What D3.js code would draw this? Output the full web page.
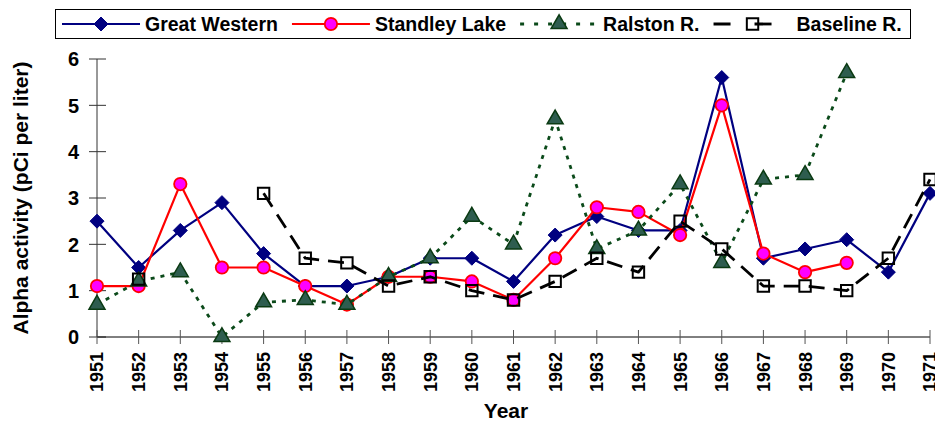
<!DOCTYPE html>
<html>
<head>
<meta charset="utf-8">
<script src="https://cdn.jsdelivr.net/npm/d3@7"></script>
<style>
  body { margin: 0; background: #fff; }
  svg { display: block; font-family: "Liberation Sans", Arial, sans-serif; font-weight: bold; }
</style>
</head>
<body>
<script>
"use strict";
// data
var years = [1951, 1952, 1953, 1954, 1955, 1956, 1957, 1958, 1959, 1960, 1961,
             1962, 1963, 1964, 1965, 1966, 1967, 1968, 1969, 1970, 1971];
var greatWestern = [2.5, 1.5, 2.3, 2.9, 1.8, 1.1, 1.1, 1.3, 1.7, 1.7, 1.2,
                    2.2, 2.6, 2.3, 2.3, 5.6, 1.7, 1.9, 2.1, 1.4, 3.1];
var standleyLake = [1.1, 1.1, 3.3, 1.5, 1.5, 1.1, 0.7, 1.3, 1.3, 1.2, 0.8,
                    1.7, 2.8, 2.7, 2.2, 5.0, 1.8, 1.4, 1.6, null, null];
var ralston = [0.7, 1.2, 1.4, 0.0, 0.75, 0.8, 0.7, 1.3, 1.7, 2.6, 2.0,
               4.7, 1.9, 2.3, 3.3, 1.6, 3.4, 3.5, 5.7, null, null];
var baseline = [null, 1.25, null, null, 3.1, 1.7, 1.6, 1.1, 1.3, 1.0, 0.8,
                1.2, 1.7, 1.4, 2.5, 1.9, 1.1, 1.1, 1.0, 1.7, 3.4];
var yTicks = [0, 1, 2, 3, 4, 5, 6];
var seriesNames = ["Great Western", "Standley Lake", "Ralston R.", "Baseline R."];

(function () {
  var width = 935, height = 424;

  var svg = d3.select("body").append("svg")
    .attr("width", width)
    .attr("height", height);

  var x = d3.scaleLinear().domain([1951, 1971]).range([97, 930]);
  var y = d3.scaleLinear().domain([0, 6]).range([337, 59]);

  // excel style diamond: a square turned 45 degrees
  var diamond = "M0,-7L7,0L0,7L-7,0Z";
  var triangle = d3.symbol().type(d3.symbolTriangle).size(110);
  var square = d3.symbol().type(d3.symbolSquare).size(130);

  var series = [
    { name: seriesNames[0], values: greatWestern, stroke: "#000080", width: 2.2, dash: null,
      legendDash: null, marker: function (g) {
        g.append("path").attr("d", diamond).attr("fill", "#000080").attr("stroke", "#000080").attr("stroke-width", 1);
      } },
    { name: seriesNames[1], values: standleyLake, stroke: "#ff0000", width: 2.2, dash: null,
      legendDash: null, marker: function (g) {
        g.append("circle").attr("r", 6.2).attr("fill", "#ff00ff").attr("stroke", "#ff0000").attr("stroke-width", 1.8);
      } },
    { name: seriesNames[2], values: ralston, stroke: "#0b4a1a", width: 2.8, dash: "4,6",
      legendDash: "4,10", marker: function (g) {
        g.append("path").attr("d", triangle).attr("fill", "#2e5d4f").attr("stroke", "#0a3a12").attr("stroke-width", 1.5);
      } },
    { name: seriesNames[3], values: baseline, stroke: "#000000", width: 2.8, dash: "16,9",
      legendDash: "17,24", marker: function (g) {
        g.append("path").attr("d", square).attr("fill", "none").attr("stroke", "#000").attr("stroke-width", 2);
      } }
  ];

  // y axis
  var yAxis = svg.append("g").attr("class", "y-axis");
  yAxis.append("line")
    .attr("x1", x(1951)).attr("x2", x(1951))
    .attr("y1", y(6)).attr("y2", y(0))
    .attr("stroke", "#333").attr("stroke-width", 1);
  yTicks.forEach(function (t) {
    yAxis.append("line")
      .attr("x1", x(1951) - 8).attr("x2", x(1951) + 9)
      .attr("y1", y(t)).attr("y2", y(t))
      .attr("stroke", "#333").attr("stroke-width", 1);
    yAxis.append("text")
      .attr("x", 79).attr("y", y(t)).attr("dy", "0.36em")
      .attr("text-anchor", "end")
      .style("font-size", "20px")
      .text(t);
  });

  // x axis
  var xAxis = svg.append("g").attr("class", "x-axis");
  xAxis.append("line")
    .attr("x1", x(1951)).attr("x2", x(1971))
    .attr("y1", y(0)).attr("y2", y(0))
    .attr("stroke", "#000").attr("stroke-width", 1);
  years.forEach(function (yr) {
    xAxis.append("line")
      .attr("x1", x(yr)).attr("x2", x(yr))
      .attr("y1", y(0) - 7).attr("y2", y(0) + 7)
      .attr("stroke", "#555").attr("stroke-width", 1);
    xAxis.append("text")
      .attr("transform", "translate(" + x(yr) + "," + 352 + ") rotate(-90)")
      .attr("dy", "0.36em")
      .attr("text-anchor", "end")
      .style("font-size", "18px")
      .text(yr);
  });

  svg.append("text")
    .attr("x", 506).attr("y", 418)
    .attr("text-anchor", "middle")
    .style("font-size", "21px")
    .text("Year");

  svg.append("text")
    .attr("transform", "translate(28," + 198 + ") rotate(-90)")
    .attr("text-anchor", "middle")
    .style("font-size", "21px")
    .text("Alpha activity (pCi per liter)");

  // series
  series.forEach(function (s) {
    var pts = years.map(function (yr, i) { return { year: yr, value: s.values[i] }; });
    var line = d3.line()
      .defined(function (d) { return d.value !== null; })
      .x(function (d) { return x(d.year); })
      .y(function (d) { return y(d.value); });
    svg.append("path")
      .attr("d", line(pts))
      .attr("fill", "none")
      .attr("stroke", s.stroke)
      .attr("stroke-width", s.width)
      .attr("stroke-dasharray", s.dash)
      .attr("stroke-linejoin", "round");
    pts.filter(function (d) { return d.value !== null; }).forEach(function (d) {
      var g = svg.append("g").attr("transform", "translate(" + x(d.year) + "," + y(d.value) + ")");
      s.marker(g);
    });
  });

  // legend
  var legend = svg.append("g").attr("class", "legend");
  legend.append("rect")
    .attr("x", 55.5).attr("y", 9.5).attr("width", 855).attr("height", 29)
    .attr("fill", "#fff").attr("stroke", "#000").attr("stroke-width", 1);
  var lx = 62;
  series.forEach(function (s) {
    legend.append("line")
      .attr("x1", lx).attr("x2", lx + 78)
      .attr("y1", 24).attr("y2", 24)
      .attr("stroke", s.stroke)
      .attr("stroke-width", s.width)
      .attr("stroke-dasharray", s.legendDash);
    var g = legend.append("g").attr("transform", "translate(" + (lx + 39) + ",24)");
    s.marker(g);
    var txt = legend.append("text")
      .attr("x", lx + 83).attr("y", 24).attr("dy", "0.36em")
      .style("font-size", "19.5px")
      .text(s.name);
    lx = lx + 83 + txt.node().getComputedTextLength() + 14;
  });
})();
</script>
</body>
</html>
